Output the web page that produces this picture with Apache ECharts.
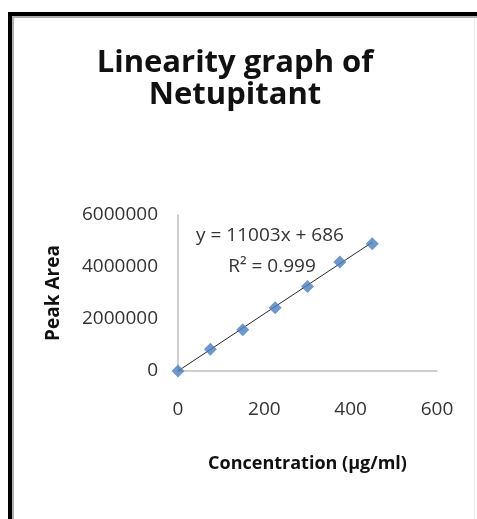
<!DOCTYPE html>
<html>
<head>
<meta charset="utf-8">
<script src="https://cdn.jsdelivr.net/npm/echarts@6/dist/echarts.min.js"></script>
<style>
  html, body { margin: 0; padding: 0; background: #ffffff; }
  #chart { width: 477px; height: 519px; }
</style>
</head>
<body>
<div id="chart"></div>
<script>
// Calibration standards: concentration (µg/ml) vs. HPLC peak area
const concentration = [0, 75, 150, 225, 300, 375, 450];
const peakArea = [0, 840000, 1590000, 2430000, 3250000, 4190000, 4890000];

// Least-squares fit reported on the chart
const slope = 11003;
const intercept = 686;
const rSquared = 0.999;

// Axis ticks
const xTicks = [0, 200, 400, 600];
const yTicks = [0, 2000000, 4000000, 6000000];

const points = concentration.map((c, i) => [c, peakArea[i]]);
const xFirst = concentration[0];
const xLast = concentration[concentration.length - 1];
const trend = [
  [xFirst, slope * xFirst + intercept],
  [xLast, slope * xLast + intercept]
];

const labelFont = '"Open Sans", "Liberation Sans", sans-serif';
const chart = echarts.init(document.getElementById('chart'));

chart.setOption({
  backgroundColor: '#ffffff',
  animation: false,
  title: {
    text: 'Linearity graph of\nNetupitant',
    left: 230,
    top: 42,
    textAlign: 'center',
    textStyle: {
      fontFamily: labelFont,
      fontWeight: 'bold',
      fontSize: 31,
      lineHeight: 32,
      color: '#111111'
    }
  },
  grid: { left: 178, right: 40, top: 215, bottom: 148, containLabel: false },
  xAxis: {
    type: 'value',
    min: xTicks[0],
    max: xTicks[xTicks.length - 1],
    interval: xTicks[1] - xTicks[0],
    name: 'Concentration (µg/ml)',
    nameLocation: 'middle',
    nameGap: 84,
    nameTextStyle: { fontFamily: labelFont, fontWeight: 'bold', fontSize: 18, color: '#111111' },
    axisLine: { show: true, onZero: false, lineStyle: { color: '#bfbfbf', width: 1.5 } },
    axisTick: { show: false },
    splitLine: { show: false },
    axisLabel: { fontFamily: labelFont, fontSize: 19, color: '#333333', margin: 29 }
  },
  yAxis: {
    type: 'value',
    min: yTicks[0],
    max: yTicks[yTicks.length - 1],
    interval: yTicks[1] - yTicks[0],
    name: 'Peak Area',
    nameLocation: 'middle',
    nameGap: 115,
    nameRotate: 90,
    nameTextStyle: { fontFamily: labelFont, fontWeight: 'bold', fontSize: 19, color: '#111111' },
    axisLine: { show: true, onZero: false, lineStyle: { color: '#bfbfbf', width: 1.5 } },
    axisTick: { show: false },
    splitLine: { show: false },
    axisLabel: {
      fontFamily: labelFont, fontSize: 19, color: '#333333', margin: 20,
      formatter: (v) => String(v)
    }
  },
  series: [
    {
      name: 'Linear fit',
      type: 'line',
      data: trend,
      symbol: 'none',
      lineStyle: { color: '#2b2b2b', width: 1 },
      z: 3
    },
    {
      name: 'Peak area',
      type: 'scatter',
      data: points,
      symbol: 'diamond',
      symbolSize: 13,
      itemStyle: { color: '#4a7ebb' },
      z: 4
    }
  ],
  graphic: [
    // frame around the chart
    { type: 'rect', shape: { x: 8, y: 12, width: 469, height: 4 }, style: { fill: '#000000' }, silent: true },
    { type: 'rect', shape: { x: 8, y: 12, width: 4, height: 507 }, style: { fill: '#000000' }, silent: true },
    { type: 'rect', shape: { x: 12, y: 16, width: 465, height: 2 }, style: { fill: '#b0b0b0' }, silent: true },
    { type: 'rect', shape: { x: 12, y: 16, width: 2, height: 503 }, style: { fill: '#b0b0b0' }, silent: true },
    { type: 'rect', shape: { x: 474, y: 18, width: 1, height: 501 }, style: { fill: '#ececec' }, silent: true },
    // fit equation and coefficient of determination
    {
      type: 'text', x: 270, y: 236,
      style: {
        text: 'y = ' + slope + 'x + ' + intercept,
        fontFamily: labelFont, fontSize: 19, fill: '#333333',
        align: 'center', verticalAlign: 'middle'
      }
    },
    {
      type: 'text', x: 272, y: 267,
      style: {
        text: 'R² = ' + rSquared.toFixed(3),
        fontFamily: labelFont, fontSize: 19, fill: '#333333',
        align: 'center', verticalAlign: 'middle'
      }
    }
  ]
});
</script>
</body>
</html>
